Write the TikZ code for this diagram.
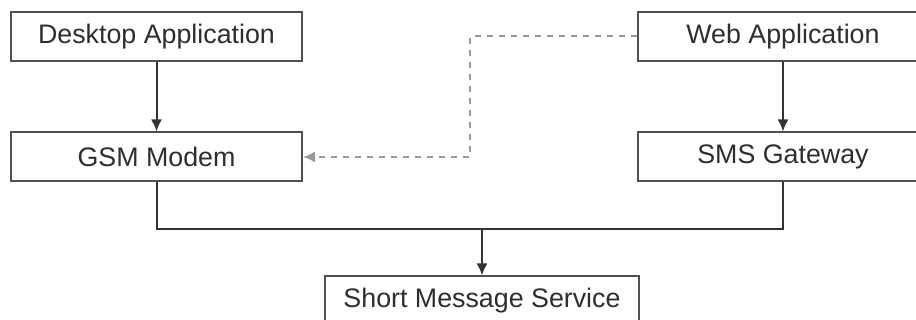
\documentclass[tikz,border=0pt]{standalone}
\usepackage{fontspec}
\setmainfont{Liberation Sans}
\usepackage{tikz}
\usetikzlibrary{arrows.meta}
\definecolor{boxline}{HTML}{505050}
\definecolor{boxtext}{HTML}{2E2E2E}
\definecolor{dashline}{HTML}{9A9A9A}

\begin{document}
\begin{tikzpicture}[x=0.5pt,y=0.5pt,
        box/.style={draw=boxline,line width=1pt,fill=white,minimum width=145.5pt,minimum height=24.5pt,inner sep=0pt,text=boxtext,font=\fontsize{13.4}{15}\selectfont},
        link/.style={draw=black!80,line width=1pt},
        tip/.style={-{Latex[length=6pt,width=5.5pt]}}]
        \clip (0,0) rectangle (916,320);
        \fill[white] (0,0) rectangle (916,320);
        \node[box] (desk) at (156.5, 283.5) {Desktop Application};
        \node[box] (web) at (783, 283.5) {Web Application};
        \node[box] (gsm) at (156.5, 163) {GSM Modem};
        \node[box] (gate) at (783, 163) {SMS Gateway};
        \node[box, minimum width=157pt] (sms) at (482, 19) {Short Message Service};
        % Joining point
        \coordinate (mid) at (482, 91);
        \coordinate (bend) at (470, 283.5);
        %
        % Edges:
      \draw[link, tip] (desk) -- (gsm);
      \draw[link, tip] (web) -- (gate);
      \draw[link] (gsm.south) |- (mid);
      \draw[link] (gate.south) |- (mid);
      \draw[link, tip] (mid) -- (sms.north);
      \draw[draw=dashline, line width=1pt, dash pattern=on 3pt off 3pt, -{Latex[length=6pt,width=5.5pt]}, dashline] (web.west) -- (bend) |- (gsm.east);
        \end{tikzpicture}
\end{document}
